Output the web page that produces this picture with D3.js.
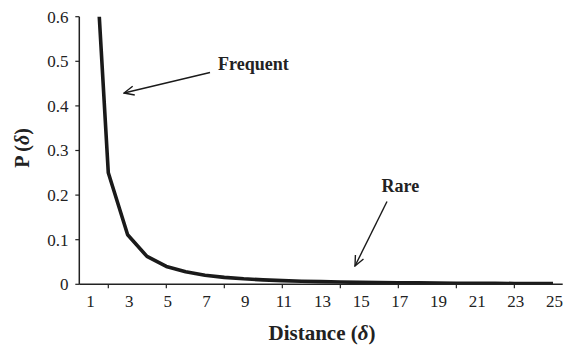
<!DOCTYPE html>
<html>
<head>
<meta charset="utf-8">
<script src="https://cdn.jsdelivr.net/npm/d3@7/dist/d3.min.js"></script>
<style>
  html, body { margin: 0; padding: 0; background: #fff; }
  svg { display: block; }
  text { fill: #222; }
</style>
</head>
<body>
<svg id="chart" width="566" height="346"></svg>
<script>
// Distance categories along the x axis
const distances = d3.range(1, 26);
// Probability of each distance
const probabilities = [1.0, 0.25, 0.111, 0.0625, 0.04, 0.028, 0.0204, 0.0156, 0.0123, 0.01,
  0.0083, 0.0069, 0.0059, 0.0051, 0.0044, 0.0039, 0.0035, 0.0031, 0.0028, 0.0025,
  0.0023, 0.0021, 0.0019, 0.0017, 0.0016];
// Axis tick values
const yTicks = [0, 0.1, 0.2, 0.3, 0.4, 0.5, 0.6];
const xLabelCats = [1, 3, 5, 7, 9, 11, 13, 15, 17, 19, 21, 23, 25];
const xTickCats = [2, 5, 8, 11, 14, 17, 20, 23];

const serif = "'Liberation Serif', 'Times New Roman', Times, serif";
const svg = d3.select("#chart").attr("font-family", serif);
const plot = { left: 79.3, right: 562.7, top: 16.7, bottom: 284.3 };

const x = d3.scaleBand().domain(distances).range([plot.left, plot.right]);
const y = d3.scaleLinear().domain([0, 0.6]).range([plot.bottom, plot.top]);
const cx = d => x(d) + x.bandwidth() / 2;

const defs = svg.append("defs");
defs.append("clipPath").attr("id", "plotClip")
  .append("rect")
  .attr("x", plot.left).attr("y", plot.top)
  .attr("width", plot.right - plot.left).attr("height", plot.bottom - plot.top);

defs.append("marker")
  .attr("id", "head")
  .attr("viewBox", "0 0 12 12")
  .attr("refX", 11).attr("refY", 6)
  .attr("markerWidth", 12).attr("markerHeight", 12)
  .attr("markerUnits", "userSpaceOnUse")
  .attr("orient", "auto")
  .append("path")
  .attr("d", "M1,1.5 L11,6 L1,10.5")
  .attr("fill", "none").attr("stroke", "#1a1a1a").attr("stroke-width", 1.4);

// Curve
const line = d3.line().x((d, i) => cx(distances[i])).y(d => y(d));
svg.append("path")
  .datum(probabilities)
  .attr("clip-path", "url(#plotClip)")
  .attr("d", line)
  .attr("fill", "none")
  .attr("stroke", "#1a1a1a")
  .attr("stroke-width", 3.6)
  .attr("stroke-linejoin", "round");

// Y axis
const yAxis = svg.append("g");
yAxis.append("line")
  .attr("x1", plot.left).attr("x2", plot.left)
  .attr("y1", plot.top).attr("y2", plot.bottom)
  .attr("stroke", "#222").attr("stroke-width", 1.5);
yAxis.selectAll("line.tick").data(yTicks).join("line")
  .attr("class", "tick")
  .attr("x1", plot.left - 4).attr("x2", plot.left)
  .attr("y1", d => y(d)).attr("y2", d => y(d))
  .attr("stroke", "#222").attr("stroke-width", 1.2);
yAxis.selectAll("text").data(yTicks).join("text")
  .attr("x", 68.5).attr("y", d => y(d))
  .attr("dy", "0.35em")
  .attr("text-anchor", "end")
  .attr("font-family", serif)
  .attr("font-size", 17)
  .text(d => d === 0 ? "0" : d3.format(".1f")(d));

// X axis
const xAxis = svg.append("g");
xAxis.append("line")
  .attr("x1", plot.left).attr("x2", plot.right)
  .attr("y1", plot.bottom).attr("y2", plot.bottom)
  .attr("stroke", "#222").attr("stroke-width", 1.5);
xAxis.selectAll("line.tick").data(xTickCats).join("line")
  .attr("class", "tick")
  .attr("x1", d => cx(d)).attr("x2", d => cx(d))
  .attr("y1", plot.bottom).attr("y2", plot.bottom + 4)
  .attr("stroke", "#222").attr("stroke-width", 1.2);
xAxis.selectAll("text").data(xLabelCats).join("text")
  .attr("x", d => cx(d) + 1.5).attr("y", 307)
  .attr("text-anchor", "middle")
  .attr("font-family", serif)
  .attr("font-size", 17)
  .text(d => d);

// Axis titles
const xTitle = svg.append("text")
  .attr("x", 322).attr("y", 340)
  .attr("text-anchor", "middle")
  .attr("font-family", serif)
  .attr("font-size", 21).attr("font-weight", "bold");
xTitle.append("tspan").text("Distance (");
xTitle.append("tspan").attr("font-style", "italic").text("δ");
xTitle.append("tspan").text(")");

const yTitle = svg.append("text")
  .attr("transform", "translate(29,148) rotate(-90)")
  .attr("text-anchor", "middle")
  .attr("font-family", serif)
  .attr("font-size", 20).attr("font-weight", "bold");
yTitle.append("tspan").text("P (");
yTitle.append("tspan").attr("font-style", "italic").text("δ");
yTitle.append("tspan").text(")");

// Annotations
const notes = [
  { label: "Frequent", tx: 218, ty: 69.5, from: [210, 72.5], to: [124, 93] },
  { label: "Rare", tx: 381.5, ty: 191.5, from: [387, 201.5], to: [355, 266] }
];
notes.forEach(n => {
  svg.append("text")
    .attr("x", n.tx).attr("y", n.ty)
    .attr("font-family", serif)
    .attr("font-size", 18).attr("font-weight", "bold")
    .text(n.label);
  svg.append("line")
    .attr("x1", n.from[0]).attr("y1", n.from[1])
    .attr("x2", n.to[0]).attr("y2", n.to[1])
    .attr("stroke", "#1a1a1a").attr("stroke-width", 1.4)
    .attr("marker-end", "url(#head)");
});
</script>
</body>
</html>
